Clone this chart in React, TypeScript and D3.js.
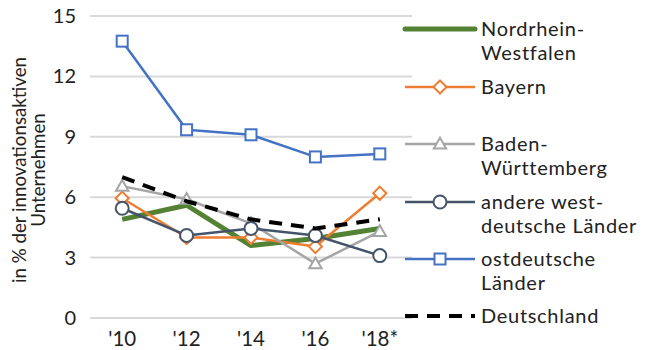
import React from "react";
import * as d3 from "d3";

const years = ["'10", "'12", "'14", "'16", "'18*"];
const yTicks = [0, 3, 6, 9, 12, 15];

const nrw = [4.9, 5.6, 3.6, 3.95, 4.45];
const bayern = [5.95, 4.0, 4.0, 3.55, 6.2];
const bw = [6.55, 5.9, 4.7, 2.7, 4.3];
const andereWest = [5.45, 4.1, 4.45, 4.1, 3.1];
const ost = [13.75, 9.35, 9.1, 8.0, 8.15];
const deutschland = [7.0, 5.8, 4.9, 4.45, 4.9];

type Series = {
  name: string[];
  values: number[];
  color: string;
  width: number;
  marker: "none" | "diamond" | "triangle" | "circle" | "square";
  dash?: string;
};

const series: Series[] = [
  { name: ["Nordrhein-", "Westfalen"], values: nrw, color: "#548235", width: 5, marker: "none" },
  { name: ["Bayern"], values: bayern, color: "#ED7D31", width: 2.5, marker: "diamond" },
  { name: ["Baden-", "Württemberg"], values: bw, color: "#A5A5A5", width: 2.5, marker: "triangle" },
  { name: ["andere west-", "deutsche Länder"], values: andereWest, color: "#44546A", width: 2.5, marker: "circle" },
  { name: ["ostdeutsche", "Länder"], values: ost, color: "#4472C4", width: 2.5, marker: "square" },
  { name: ["Deutschland"], values: deutschland, color: "#000000", width: 4, marker: "none", dash: "13 9" },
];

const legendY = [29, 87, 144, 202, 259, 316];

const font = "Lato, 'Noto Sans', sans-serif";

function Marker({ kind, x, y, color }: { kind: Series["marker"]; x: number; y: number; color: string }) {
  const sw = 2;
  if (kind === "square") return <rect x={x - 5.5} y={y - 5.5} width={11} height={11} fill="#fff" stroke={color} strokeWidth={sw} />;
  if (kind === "circle") return <circle cx={x} cy={y} r={6.5} fill="#fff" stroke={color} strokeWidth={sw} />;
  if (kind === "diamond") {
    const s = d3.symbol(d3.symbolDiamond2, 110)();
    return <path d={s || ""} transform={`translate(${x},${y})`} fill="#fff" stroke={color} strokeWidth={sw} />;
  }
  if (kind === "triangle") {
    const s = d3.symbol(d3.symbolTriangle2, 110)();
    return <path d={s || ""} transform={`translate(${x},${y + 1})`} fill="#fff" stroke={color} strokeWidth={sw} />;
  }
  return null;
}

export default function App() {
  const width = 651;
  const height = 350;
  const x = d3.scaleBand<string>().domain(years).range([90, 412]);
  const y = d3.scaleLinear().domain([0, 15]).range([318, 16]);
  const cx = (d: string) => (x(d) ?? 0) + x.bandwidth() / 2;

  const line = d3
    .line<number>()
    .x((_, i) => cx(years[i]))
    .y((d) => y(d));

  return (
    <svg width={width} height={height} style={{ position: "absolute", left: 0, top: 0 }} fontFamily={font}>
      {yTicks.map((t) => (
        <g key={t}>
          <line x1={90} x2={412} y1={y(t)} y2={y(t)} stroke="#D9D9D9" strokeWidth={2} />
          <text x={76} y={y(t)} dy="0.35em" textAnchor="end" fontSize={20} fill="#222">
            {t}
          </text>
        </g>
      ))}
      {years.map((yr) => (
        <text key={yr} x={cx(yr)} y={346} textAnchor="middle" fontSize={20.5} fill="#222">
          {yr}
        </text>
      ))}
      <text transform="translate(26,170) rotate(-90)" textAnchor="middle" fontSize={18.7} fill="#222">
        in % der innovationsaktiven
      </text>
      <text transform="translate(45,170) rotate(-90)" textAnchor="middle" fontSize={18.7} fill="#222">
        Unternehmen
      </text>

      {series.map((s) => (
        <g key={s.name.join("")}>
          <path
            d={line(s.values) || ""}
            fill="none"
            stroke={s.color}
            strokeWidth={s.width}
            strokeDasharray={s.dash}
            strokeLinejoin="round"
          />
          {s.values.map((v, i) => (
            <Marker key={i} kind={s.marker} x={cx(years[i])} y={y(v)} color={s.color} />
          ))}
        </g>
      ))}

      {series.map((s, i) => (
        <g key={"l" + i}>
          <line
            x1={405}
            x2={475}
            y1={legendY[i]}
            y2={legendY[i]}
            stroke={s.color}
            strokeWidth={s.width}
            strokeDasharray={s.dash}
            strokeLinecap={s.marker === "none" && !s.dash ? "round" : "butt"}
          />
          <Marker kind={s.marker} x={440} y={legendY[i]} color={s.color} />
          {s.name.map((n, j) => (
            <text key={j} x={481} y={legendY[i] + j * 24} dy="0.35em" fontSize={20} letterSpacing={0.7} fill="#222">
              {n}
            </text>
          ))}
        </g>
      ))}
    </svg>
  );
}
